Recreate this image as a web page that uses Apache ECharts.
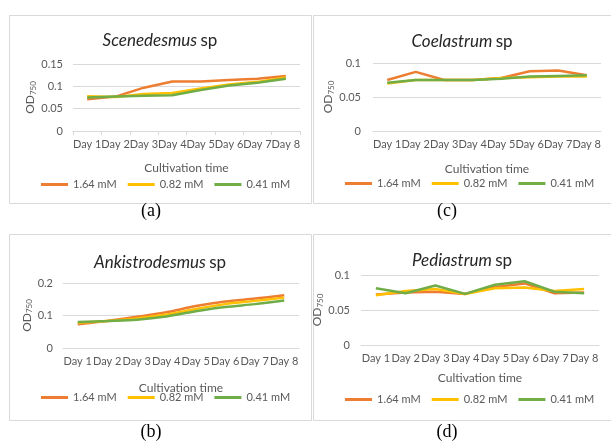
<!DOCTYPE html>
<html>
<head>
<meta charset="utf-8">
<script src="https://cdn.jsdelivr.net/npm/echarts@6/dist/echarts.min.js"></script>
<style>
  html, body { margin: 0; padding: 0; background: #fff; }
  #chart { width: 611px; height: 446px; }
</style>
</head>
<body>
<div id="chart"></div>
<script>
// category labels
var days = ['Day 1', 'Day 2', 'Day 3', 'Day 4', 'Day 5', 'Day 6', 'Day 7', 'Day 8'];
var concNames = ['1.64 mM', '0.82 mM', '0.41 mM'];

// (a) Scenedesmus sp
var scenedesmus164 = [0.071, 0.077, 0.097, 0.111, 0.111, 0.114, 0.117, 0.123];
var scenedesmus082 = [0.078, 0.076, 0.083, 0.085, 0.095, 0.104, 0.110, 0.120];
var scenedesmus041 = [0.075, 0.077, 0.079, 0.080, 0.092, 0.102, 0.108, 0.117];

// (c) Coelastrum sp
var coelastrum164 = [0.075, 0.087, 0.075, 0.075, 0.078, 0.088, 0.089, 0.082];
var coelastrum082 = [0.070, 0.075, 0.075, 0.075, 0.078, 0.079, 0.080, 0.080];
var coelastrum041 = [0.071, 0.075, 0.075, 0.075, 0.077, 0.080, 0.081, 0.082];

// (b) Ankistrodesmus sp
var ankistro164 = [0.073, 0.083, 0.096, 0.110, 0.129, 0.143, 0.152, 0.162];
var ankistro082 = [0.078, 0.083, 0.091, 0.103, 0.120, 0.135, 0.145, 0.155];
var ankistro041 = [0.080, 0.083, 0.087, 0.097, 0.113, 0.126, 0.135, 0.146];

// (d) Pediastrum sp
var pediastrum164 = [0.072, 0.075, 0.076, 0.073, 0.083, 0.088, 0.074, 0.075];
var pediastrum082 = [0.071, 0.077, 0.080, 0.073, 0.081, 0.082, 0.077, 0.080];
var pediastrum041 = [0.081, 0.074, 0.085, 0.073, 0.086, 0.091, 0.076, 0.074];

var colors = ['#ED7D31', '#FFC000', '#70AD47'];
var gray = '#595959';
var lineGray = '#d9d9d9';
var font = 'Lato';

// panel layout
var panels = [
    { title: 'Scenedesmus', tx: 160, ty: 41, grid: { left: 73, right: 311, top: 64, bottom: 315 },
      max: 0.15, interval: 0.05, labelMargin: 10, yNameGap: 33, xNameGap: 31,
      legendLeft: 36, legendTop: 174, ticks: true, smooth: false,
      data: [scenedesmus164, scenedesmus082, scenedesmus041] },
    { title: 'Coelastrum', tx: 462, ty: 42, grid: { left: 373, right: 10, top: 63, bottom: 315 },
      max: 0.1, interval: 0.05, labelMargin: 12, yNameGap: 34, xNameGap: 32,
      legendLeft: 340, legendTop: 173, ticks: false, smooth: false,
      data: [coelastrum164, coelastrum082, coelastrum041] },
    { title: 'Ankistrodesmus', tx: 160, ty: 263, grid: { left: 63, right: 312, top: 283, bottom: 98 },
      max: 0.2, interval: 0.1, labelMargin: 10, yNameGap: 28, xNameGap: 34,
      legendLeft: 36, legendTop: 387, ticks: false, smooth: 0.3,
      data: [ankistro164, ankistro082, ankistro041] },
    { title: 'Pediastrum', tx: 462, ty: 261, grid: { left: 361, right: 12, top: 275, bottom: 101 },
      max: 0.1, interval: 0.05, labelMargin: 11, yNameGap: 30, xNameGap: 27,
      legendLeft: 340, legendTop: 389, ticks: false, smooth: false,
      data: [pediastrum164, pediastrum082, pediastrum041] }
];

var grids = [], xAxes = [], yAxes = [], series = [], legends = [], graphics = [];

// frames and sub labels
var frames = [[9, 15, 302, 188], [313, 15, 300, 188], [9, 234, 302, 186], [313, 234, 300, 186]];
frames.forEach(function (f) {
    graphics.push({ type: 'rect', shape: { x: f[0] + 0.5, y: f[1] + 0.5, width: f[2], height: f[3] },
        style: { fill: null, stroke: lineGray, lineWidth: 1 }, silent: true });
});
var subLabels = [['(a)', 151, 211], ['(c)', 447, 211], ['(b)', 151, 432], ['(d)', 447, 432]];
subLabels.forEach(function (s) {
    graphics.push({ type: 'text', x: s[1], y: s[2],
        style: { text: s[0], fill: '#000', font: '18px "Liberation Serif"', align: 'center', verticalAlign: 'middle' } });
});

panels.forEach(function (p, i) {
    grids.push(p.grid);

    xAxes.push({
        type: 'category', gridIndex: i, data: days, boundaryGap: true,
        name: 'Cultivation time', nameLocation: 'middle', nameGap: p.xNameGap,
        nameTextStyle: { color: gray, fontFamily: font, fontSize: 12 },
        axisLine: { lineStyle: { color: lineGray } },
        axisTick: { show: p.ticks, length: 4, lineStyle: { color: lineGray } },
        axisLabel: { color: gray, fontFamily: font, fontSize: 11, margin: 8, interval: 0 }
    });

    yAxes.push({
        type: 'value', gridIndex: i, min: 0, max: p.max, interval: p.interval,
        name: '{b|OD}{s|750}', nameLocation: 'middle', nameGap: p.yNameGap, nameRotate: 90,
        nameTextStyle: { color: gray, rich: {
            b: { fontFamily: font, fontSize: 12, color: gray },
            s: { fontFamily: font, fontSize: 8, color: gray, padding: [6, 0, 0, 0] }
        } },
        axisLine: { show: false },
        axisTick: { show: false },
        splitLine: { lineStyle: { color: lineGray } },
        axisLabel: { color: gray, fontFamily: font, fontSize: 11, margin: p.labelMargin }
    });

    for (var k = 0; k < 3; k++) {
        series.push({
            name: concNames[k], type: 'line', xAxisIndex: i, yAxisIndex: i,
            data: p.data[k], showSymbol: false, smooth: p.smooth,
            lineStyle: { color: colors[k], width: 2.5 },
            itemStyle: { color: colors[k] }
        });
    }

    legends.push({
        data: concNames, left: p.legendLeft, top: p.legendTop, orient: 'horizontal',
        icon: 'rect', itemWidth: 27, itemHeight: 3, itemGap: 11,
        textStyle: { color: gray, fontFamily: font, fontSize: 11 }
    });

    graphics.push({ type: 'text', x: p.tx, y: p.ty,
        style: {
            text: '{i|' + p.title + '} {n|sp}', align: 'center', verticalAlign: 'middle',
            rich: {
                i: { fontFamily: font, fontSize: 17, fontStyle: 'italic', fill: '#262626' },
                n: { fontFamily: font, fontSize: 17, fill: '#262626' }
            }
        } });
});

var chart = echarts.init(document.getElementById('chart'));
chart.setOption({
    animation: false,
    backgroundColor: '#fff',
    grid: grids,
    xAxis: xAxes,
    yAxis: yAxes,
    legend: legends,
    series: series,
    graphic: graphics
});
</script>
</body>
</html>
